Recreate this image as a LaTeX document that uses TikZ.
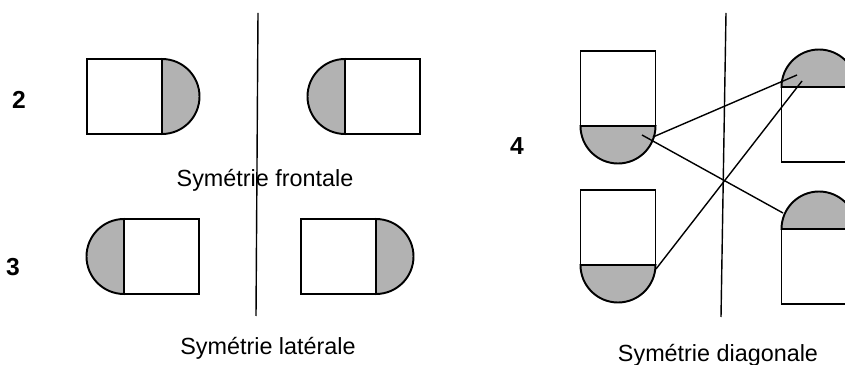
\documentclass[tikz,border=0pt]{standalone}
\usepackage{fontspec}
\setmainfont{Liberation Sans}
\usepackage{xcolor}
\definecolor{capgray}{RGB}{178,178,178}
\tikzset{
    caption/.style={font=\fontsize{13.3}{16}\selectfont, inner sep=0pt},
    rownum/.style={font=\fontsize{14}{16}\selectfont\bfseries, inner sep=0pt},
    axis/.style={line width=0.8pt},
    link/.style={line width=0.8pt},
    pics/capsule/.style={
        code={
            \draw[line width=1.1pt, fill=white] (-75,-37.5) rectangle (0,37.5);
            \draw[line width=1.1pt, fill=capgray] (0,-37.5) arc[start angle=-90, end angle=90, radius=37.5] -- cycle;
        }
    }
}

\begin{document}
\begin{tikzpicture}[x=0.02cm, y=0.02cm]
      \useasboundingbox (0,0) rectangle (845,365);

      % symetrie frontale et laterale
      \node[rownum] (num-2) at (19,265) {2};
      \node[rownum] (num-3) at (13,98) {3};
      \coordinate (axis-a-top) at (258,352);
      \coordinate (axis-a-bot) at (256,49);
      \draw[axis] (axis-a-top) -- (axis-a-bot);

      \pic at (162,268.5) {capsule};
      \pic[rotate=180] at (345,268.5) {capsule};
      \pic[rotate=180] at (124,108.5) {capsule};
      \pic at (376,108.5) {capsule};

      \node[caption] (cap-front) at (265,185) {Symétrie frontale};
      \node[caption] (cap-lat) at (268,17) {Symétrie latérale};

      % symetrie diagonale
      \node[rownum] (num-4) at (517,219) {4};
      \coordinate (axis-b-top) at (726,352);
      \coordinate (axis-b-bot) at (721,48);
      \draw[axis] (axis-b-top) -- (axis-b-bot);

      \pic[rotate=-90] at (618,239) {capsule};
      \pic[rotate=-90] at (618,100) {capsule};
      \pic[rotate=90] at (819,278) {capsule};
      \pic[rotate=90] at (819,136) {capsule};

      \coordinate (e-a) at (653,228);
      \coordinate (e-b) at (642,230);
      \coordinate (f-a) at (656,96);
      \coordinate (g-a) at (797,290);
      \coordinate (g-b) at (802,284);
      \coordinate (h-a) at (783,152);
      \draw[link] (e-a) -- (g-a);
      \draw[link] (e-b) -- (h-a);
      \draw[link] (f-a) -- (g-b);

      \node[caption] (cap-diag) at (718,10) {Symétrie diagonale};
\end{tikzpicture}
\end{document}
